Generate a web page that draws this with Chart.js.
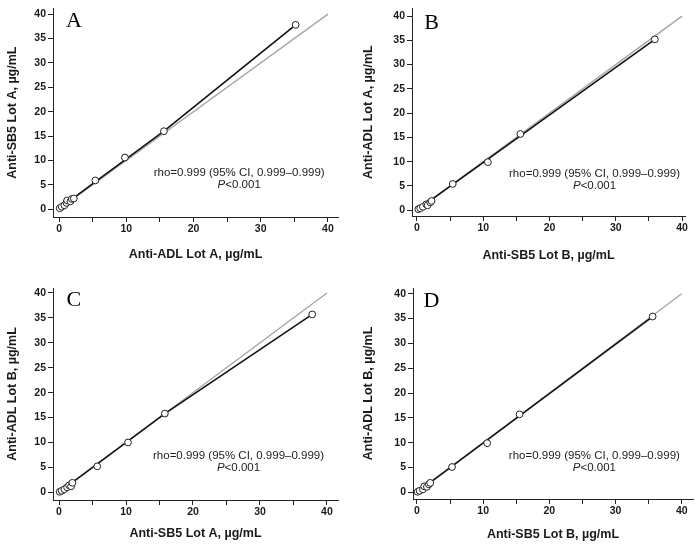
<!DOCTYPE html>
<html>
<head>
<meta charset="utf-8">
<script src="https://cdn.jsdelivr.net/npm/chart.js@4.4.1/dist/chart.umd.min.js"></script>
<style>
  html, body { margin: 0; padding: 0; background: #fff; }
  #wrap { position: relative; width: 700px; height: 546px; }
  canvas { position: absolute; }
</style>
</head>
<body>
<div id="wrap">
  <canvas id="cA" width="350" height="273" style="left:0;top:0"></canvas>
  <canvas id="cB" width="350" height="273" style="left:350px;top:0"></canvas>
  <canvas id="cC" width="350" height="273" style="left:0;top:273px"></canvas>
  <canvas id="cD" width="350" height="273" style="left:350px;top:273px"></canvas>
</div>
<script>
// ── data (µg/mL) ──
const aX = [0.1, 0.4, 0.8, 1.1, 1.2, 1.7, 1.9, 2.2, 5.4, 9.8, 15.6, 35.2];
const aY = [0.2, 0.5, 0.8, 1.3, 1.8, 1.6, 2.1, 2.2, 5.9, 10.6, 16.0, 37.8];
const bX = [0.2, 0.5, 0.9, 1.4, 1.6, 2.0, 2.2, 5.4, 10.7, 15.6, 35.9];
const bY = [0.2, 0.4, 0.7, 1.2, 1.0, 1.6, 1.9, 5.4, 9.9, 15.7, 35.2];
const cX = [0.1, 0.4, 0.8, 1.2, 1.5, 1.8, 2.0, 5.7, 10.3, 15.8, 37.8];
const cY = [0.1, 0.3, 0.6, 1.0, 1.4, 1.2, 1.9, 5.2, 10.0, 15.8, 35.7];
const dX = [0.1, 0.4, 0.9, 1.1, 1.5, 1.8, 2.0, 5.3, 10.6, 15.5, 35.6];
const dY = [0.1, 0.3, 0.6, 1.2, 1.1, 1.6, 1.9, 5.1, 9.9, 15.7, 35.4];

// fitted (black) line, knots
const fitAX = [0.1, 15.6, 35.2], fitAY = [0.2, 16.0, 37.8];
const fitBX = [0.2, 35.9],       fitBY = [0.2, 35.2];
const fitCX = [0.1, 15.8, 37.8], fitCY = [0.1, 15.8, 35.7];
const fitDX = [0.1, 35.6],       fitDY = [0.1, 35.4];

// line of identity
const idX = [0, 40], idY = [0, 40];

const xTickVals = [0, 5, 10, 15, 20, 25, 30, 35, 40];
const xTickLabels = [0, 10, 20, 30, 40];
const yTickVals = [0, 5, 10, 15, 20, 25, 30, 35, 40];

const statLine = 'rho=0.999 (95% CI, 0.999\u20130.999)';
const pLine = ['P', '<0.001'];

const FONT = '"Liberation Sans", Arial, sans-serif';

const panels = [
  { id: 'cA', letter: 'A', xs: aX, ys: aY, fx: fitAX, fy: fitAY,
    xTitle: 'Anti-ADL Lot A, \u00b5g/mL', yTitle: 'Anti-SB5 Lot A, \u00b5g/mL',
    area: [53, 5, 338, 217], xr: [-0.9, 41.5], yr: [-1.6, 41.2], xtPad: 10.5, ytPad: 5 },
  { id: 'cB', letter: 'B', xs: bX, ys: bY, fx: fitBX, fy: fitBY,
    xTitle: 'Anti-SB5 Lot B, \u00b5g/mL', yTitle: 'Anti-ADL Lot A, \u00b5g/mL',
    area: [62, 4, 335, 216], xr: [-0.75, 40.45], yr: [-1.2, 41.6], xtPad: 9.5, ytPad: 11.5 },
  { id: 'cC', letter: 'C', xs: cX, ys: cY, fx: fitCX, fy: fitCY,
    xTitle: 'Anti-SB5 Lot A, \u00b5g/mL', yTitle: 'Anti-ADL Lot B, \u00b5g/mL',
    area: [53, 15, 338, 227], xr: [-0.9, 41.65], yr: [-1.55, 41.0], xtPad: 4.5, ytPad: 5 },
  { id: 'cD', letter: 'D', xs: dX, ys: dY, fx: fitDX, fy: fitDY,
    xTitle: 'Anti-SB5 Lot B, \u00b5g/mL', yTitle: 'Anti-ADL Lot B, \u00b5g/mL',
    area: [63, 15, 343, 226], xr: [-0.6, 41.7], yr: [-1.35, 41.15], xtPad: 3.8, ytPad: 11.5 }
];

const toPts = (xs, ys) => xs.map((x, i) => ({ x, y: ys[i] }));

// letter + correlation text, placed in data coordinates
const panelText = {
  id: 'panelText',
  afterDraw(chart, args, opts) {
    const { ctx, scales: { x, y } } = chart;
    ctx.save();
    ctx.fillStyle = '#000';
    ctx.textBaseline = 'alphabetic';
    ctx.textAlign = 'center';
    ctx.font = '22px "Liberation Serif", "Times New Roman", serif';
    ctx.fillText(opts.letter, x.getPixelForValue(2.2), y.getPixelForValue(37.3));

    ctx.fillStyle = '#222';
    ctx.textBaseline = 'middle';
    ctx.font = '11.5px ' + FONT;
    const cx = x.getPixelForValue(26.8);
    ctx.fillText(statLine, cx, y.getPixelForValue(7.4));

    const ly = y.getPixelForValue(5.0);
    ctx.font = 'italic 11.5px ' + FONT;
    const w1 = ctx.measureText(pLine[0]).width;
    ctx.font = '11.5px ' + FONT;
    const w2 = ctx.measureText(pLine[1]).width;
    const x0 = cx - (w1 + w2) / 2;
    ctx.textAlign = 'left';
    ctx.font = 'italic 11.5px ' + FONT;
    ctx.fillText(pLine[0], x0, ly);
    ctx.font = '11.5px ' + FONT;
    ctx.fillText(pLine[1], x0 + w1, ly);
    ctx.restore();
  }
};

panels.forEach(p => {
  const [L, T, R, B] = p.area;
  new Chart(document.getElementById(p.id), {
    type: 'scatter',
    data: {
      datasets: [
        { data: toPts(p.xs, p.ys), pointRadius: 3.4, pointBackgroundColor: '#fff',
          pointBorderColor: '#222', pointBorderWidth: 1, order: 1 },
        { data: toPts(p.fx, p.fy), showLine: true, pointRadius: 0,
          borderColor: '#111', borderWidth: 1.6, order: 2 },
        { data: toPts(idX, idY), showLine: true, pointRadius: 0,
          borderColor: '#a6a6a6', borderWidth: 1.4, order: 3 }
      ]
    },
    options: {
      responsive: false,
      animation: false,
      events: [],
      layout: { padding: { left: 0, top: T, right: 350 - R, bottom: 0 } },
      plugins: {
        legend: { display: false },
        tooltip: { enabled: false },
        panelText: { letter: p.letter }
      },
      scales: {
        x: {
          type: 'linear', min: p.xr[0], max: p.xr[1],
          afterBuildTicks: s => { s.ticks = xTickVals.map(v => ({ value: v })); },
          afterFit: s => { s.height = 273 - B; },
          ticks: {
            color: '#1a1a1a', padding: 1, maxRotation: 0, autoSkip: false,
            font: { family: FONT, size: 10.5, weight: 'bold' },
            callback: v => xTickLabels.includes(v) ? String(v) : ''
          },
          grid: { drawOnChartArea: false, drawTicks: true, tickLength: 5, tickColor: '#222' },
          border: { display: true, color: '#222', width: 1 },
          title: { display: true, text: p.xTitle, color: '#1a1a1a',
            font: { family: FONT, size: 12.5, weight: 'bold' },
            padding: { top: 0, bottom: p.xtPad } }
        },
        y: {
          type: 'linear', min: p.yr[0], max: p.yr[1],
          afterBuildTicks: s => { s.ticks = yTickVals.map(v => ({ value: v })); },
          afterFit: s => { s.width = L; },
          ticks: {
            color: '#1a1a1a', padding: 2, autoSkip: false,
            font: { family: FONT, size: 10.5, weight: 'bold' },
            callback: v => String(v)
          },
          grid: { drawOnChartArea: false, drawTicks: true, tickLength: 5, tickColor: '#222' },
          border: { display: true, color: '#222', width: 1 },
          title: { display: true, text: p.yTitle, color: '#1a1a1a',
            font: { family: FONT, size: 12.5, weight: 'bold' },
            padding: { top: p.ytPad, bottom: 0 } }
        }
      }
    },
    plugins: [panelText]
  });
});
</script>
</body>
</html>
